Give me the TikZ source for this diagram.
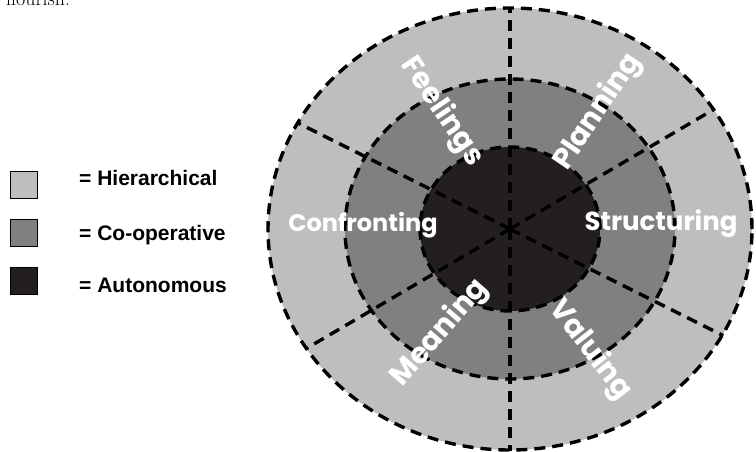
\documentclass[tikz,border=0pt]{standalone}
\usepackage{fontspec}
\newfontfamily\legfont{Liberation Sans}
\newfontfamily\ringfont{Poppins}
\usetikzlibrary{positioning}

\definecolor{hierfill}{RGB}{189,190,192}
\definecolor{coopfill}{RGB}{128,128,131}
\definecolor{autofill}{RGB}{35,31,32}

\tikzset{
  ringline/.style={line width=3.4pt, dash pattern=on 11pt off 7pt},
  legbox/.style={draw=black, line width=1.5pt, minimum width=27pt, minimum height=27pt, inner sep=0pt},
  legtext/.style={font=\legfont\bfseries\fontsize{21}{24}\selectfont, inner sep=0pt, anchor=base west},
  ringlab/.style={text=white, font=\ringfont\bfseries\fontsize{24}{26}\selectfont, inner sep=0pt},
  slantlab/.style={ringlab, font=\ringfont\bfseries\fontsize{29}{32}\selectfont},
}

\begin{document}
\begin{tikzpicture}[x=1pt,y=-1pt]
  \useasboundingbox (0,0) rectangle (756,452);
  \clip (0,0) rectangle (756,452);

  % end of the text above, cut by the page
  \node[anchor=base west, inner sep=0pt, font=\fontsize{20}{22}\selectfont] (prevtext) at (6,6) {flourish.};

  % legend
  \node[legbox, fill=hierfill] (hbox) at (24,185) {};
  \node[legbox, fill=coopfill] (cbox) at (24,233) {};
  \node[legbox, fill=autofill] (abox) at (24,281) {};
  \node[legtext] (htext) at (79,185.5) {= Hierarchical};
  \node[legtext] (ctext) at (79,240.5) {= Co-operative};
  \node[legtext] (atext) at (79,292) {= Autonomous};

  % rings
  \coordinate (c) at (510,229);
  \fill[hierfill] (c) ellipse [x radius=242pt, y radius=221pt];
  \fill[coopfill] (c) ellipse [x radius=165pt, y radius=150pt];
  \fill[autofill] (c) ellipse [x radius=90pt, y radius=82pt];

  % sector lines
  \begin{scope}
    \clip (c) ellipse [x radius=243pt, y radius=222pt];
    \foreach \dx/\dy in {0/-300, 0/300, -268/-134, 268/134, 259/-152, -259/152}
      \draw[ringline] (c) -- ++(\dx,\dy);
  \end{scope}

  \foreach \rx/\ry in {242/221, 165/150, 90/82}
    \draw[ringline] (c) ellipse [x radius=\rx pt, y radius=\ry pt];

  % labels
  \node[ringlab] (confr) at (363,225) {Confronting};
  \node[ringlab, font=\ringfont\bfseries\fontsize{26}{28}\selectfont] (struc) at (661,224) {Structuring};
  \node[slantlab, rotate=-56] (feel) at (442,112) {Feelings};
  \node[slantlab, rotate=56] (plan) at (598,112) {Planning};
  \node[slantlab, rotate=49] (mean) at (440,333) {Meaning};
  \node[slantlab, rotate=-52] (valu) at (590,350) {Valuing};
\end{tikzpicture}
\end{document}
